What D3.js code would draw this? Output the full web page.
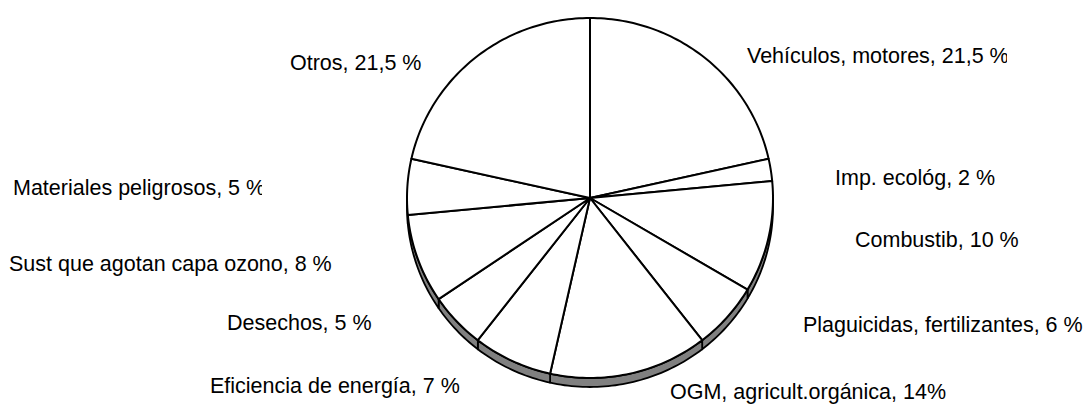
<!DOCTYPE html>
<html>
<head>
<meta charset="utf-8">
<script src="https://cdn.jsdelivr.net/npm/d3@7"></script>
<style>
  body { margin: 0; background: #fff; }
  svg { display: block; }
</style>
</head>
<body>
<svg id="chart" width="1086" height="404"></svg>
<script>
// Slice data, clockwise from 12 o'clock
const categories = ["Vehículos, motores", "Imp. ecológ", "Combustib", "Plaguicidas, fertilizantes",
  "OGM, agricult.orgánica", "Eficiencia de energía", "Desechos", "Sust que agotan capa ozono",
  "Materiales peligrosos", "Otros"];
const values = [21.5, 2, 10, 6, 14, 7, 5, 8, 5, 21.5];
const valueLabels = ["21,5 %", "2 %", "10 %", "6 %", "14%,", "7 %", "5 %", "8 %", "5 %", "21,5 %"];

// Label layout: left x, baseline y, clip right edge (null = no clip)
const labelLayout = [
  [747, 63, 1007], [835, 185, null], [855, 247, null], [803, 332, null],
  [670, 399, 947], [210, 393, null], [227, 330, null], [9, 271, null],
  [13, 195, 262], [290, 70, null]
];

const cx = 590, cy = 198, rx = 183, ry = 180, depth = 9;

const svg = d3.select("#chart");

const pie = d3.pie().sort(null).value(d => d);
const arcs = pie(values);

// point on the top ellipse for a d3 angle
const pt = (a, dy = 0) => [cx + rx * Math.sin(a), cy - ry * Math.cos(a) + dy];

function arcPath(a0, a1, dy) {
  const n = Math.max(2, Math.ceil(Math.abs(a1 - a0) / 0.02));
  return d3.range(n + 1).map(i => pt(a0 + (a1 - a0) * i / n, dy));
}

// Side wall (visible from 3 o'clock to 9 o'clock)
const sideG = svg.append("g");
arcs.forEach(d => {
  const a0 = Math.max(d.startAngle, Math.PI / 2);
  const a1 = Math.min(d.endAngle, Math.PI * 3 / 2);
  if (a1 <= a0) return;
  const top = arcPath(a0, a1, 0);
  const bottom = arcPath(a1, a0, depth);
  sideG.append("path")
    .attr("d", d3.line()(top.concat(bottom)) + "Z")
    .attr("fill", "#808080")
    .attr("stroke", "#000")
    .attr("stroke-width", 1.8)
    .attr("stroke-linejoin", "round");
});

// Top face slices
const topG = svg.append("g");
arcs.forEach(d => {
  const pts = [[cx, cy]].concat(arcPath(d.startAngle, d.endAngle, 0));
  topG.append("path")
    .attr("d", d3.line()(pts) + "Z")
    .attr("fill", "#fff")
    .attr("stroke", "#000")
    .attr("stroke-width", 2)
    .attr("stroke-linejoin", "round");
});

// Labels
const defs = svg.append("defs");
const labelG = svg.append("g")
  .style("font-family", "Arial, 'Liberation Sans', sans-serif")
  .style("font-size", "21.5px")
  .attr("fill", "#000");

categories.forEach((c, i) => {
  const [x, y, clip] = labelLayout[i];
  const t = labelG.append("text")
    .attr("x", x)
    .attr("y", y)
    .text(c + ", " + valueLabels[i]);
  if (clip) {
    const id = "clip" + i;
    defs.append("clipPath").attr("id", id)
      .append("rect").attr("x", x - 5).attr("y", y - 30).attr("width", clip - x + 5).attr("height", 40);
    t.attr("clip-path", `url(#${id})`);
  }
});
</script>
</body>
</html>
